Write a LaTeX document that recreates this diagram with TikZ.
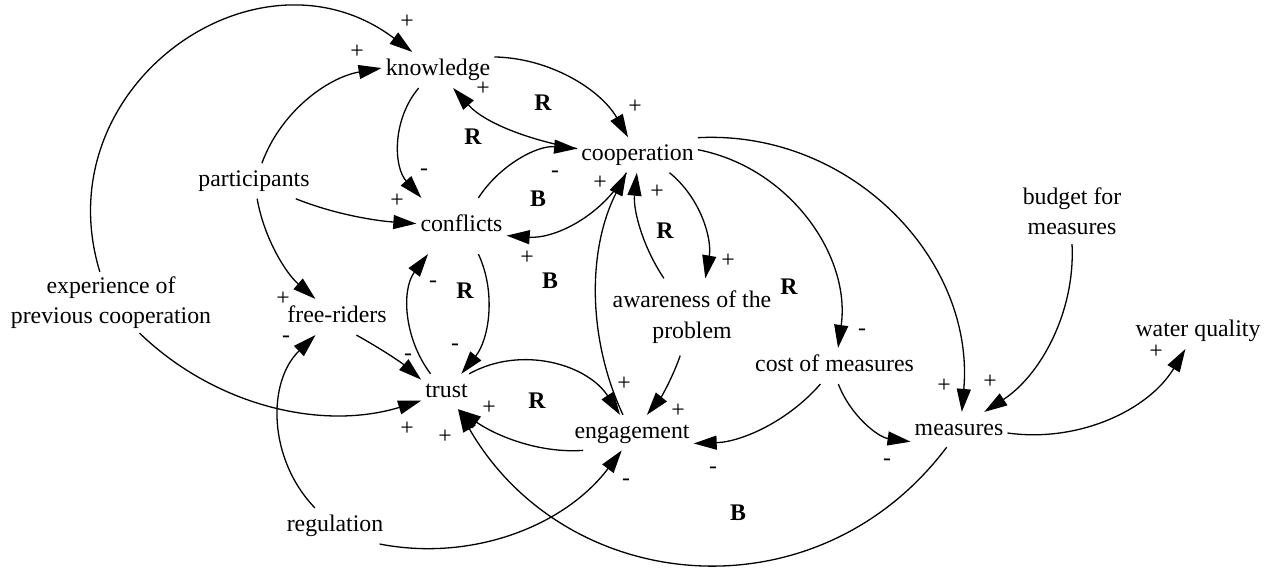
\documentclass[tikz,border=0pt]{standalone}
\usepackage{fontspec}
\setmainfont{Liberation Serif}
\usetikzlibrary{arrows.meta}
\newcommand\vstr{\rule[-5pt]{0pt}{21pt}}
\begin{document}
\begin{tikzpicture}[x=1pt,y=1pt,
  varbox/.style={rectangle, inner xsep=4pt, inner ysep=7pt,
    font=\fontsize{23.8}{30.5}\selectfont, align=center, execute at begin node=\vstr},
  varbox2/.style={varbox, inner ysep=4.25pt},
  sgn/.style={inner sep=0pt, font=\fontsize{23.8}{28}\selectfont, text height=11.4pt, text depth=0pt},
  looplbl/.style={inner sep=0pt, font=\fontsize{23.8}{28}\selectfont\bfseries},
  lnk/.style={line width=1.3pt, -{Triangle[length=23pt,width=14pt]}}
]
\useasboundingbox (0,0) rectangle (1271,-569);

% variables
\node[varbox] (know) at (438,-70) {knowledge};
\node[varbox] (coop) at (637.5,-155) {cooperation};
\node[varbox] (part) at (254,-181) {participants};
\node[varbox, inner ysep=17pt] (conf) at (461.5,-226) {conflicts};
\node[varbox2] (exp) at (111,-302.5) {experience of\\previous cooperation\vstr};
\node[varbox] (free) at (337,-317) {free-riders};
\node[varbox] (trust) at (446.5,-391.5) {trust};
\node[varbox] (eng) at (632,-432.6) {engagement};
\node[varbox2, inner ysep=12.25pt] (aware) at (692,-317) {awareness of the\\problem\vstr};
\node[varbox] (cost) at (834.5,-366) {cost of measures};
\node[varbox] (meas) at (959,-429.6) {measures};
\node[varbox2] (budget) at (1072,-213.5) {budget for\\measures\vstr};
\node[varbox] (water) at (1198,-331) {water quality};
\node[varbox] (reg) at (335,-526) {regulation};

% links
\draw[lnk] (exp.110) to[out=107,in=143,looseness=1.30] (know.145);
\draw[lnk] (part.66) to[out=70,in=190,looseness=0.92] (know.178);
\draw[lnk] (know.223) to[out=230,in=132,looseness=0.97] (conf.145);
\draw[lnk] (part.-23) to[out=-22,in=176,looseness=0.86] (conf.177);
\draw[lnk] (part.-80) to[out=-80,in=139,looseness=0.88] (free.140);
\draw[lnk] (exp.-47.5) to[out=-44,in=197,looseness=0.92] (trust.200);
\draw[lnk] (reg.138) to[out=134,in=224,looseness=1.0] (free.220);
\draw[lnk] (free.-43) to[out=-29,in=139,looseness=0.86] (trust.155);
\draw[lnk] (trust.132) to[out=127,in=233,looseness=0.95] (conf.220);
\draw[lnk] (conf.-59) to[out=-65,in=51,looseness=0.92] (trust.50);
\draw[lnk] (know.13) to[out=-1,in=120,looseness=0.91] (coop.118);
\draw[lnk] (coop.174) to[out=170,in=-48,looseness=0.88] (know.-50);
\draw[lnk] (conf.59) to[out=57,in=175,looseness=0.92] (coop.174);
\draw[lnk] (coop.238) to[out=241,in=-4,looseness=0.92] (conf.-12);
\draw[lnk] (eng.117) to[out=115,in=243,looseness=0.90] (coop.238);
\draw[lnk] (aware.126) to[out=124,in=264,looseness=0.88] (coop.268);
\draw[lnk] (coop.-29) to[out=-39,in=80,looseness=0.92] (aware.71);
\draw[lnk] (coop.5) to[out=-11,in=82,looseness=0.98] (cost.79);
\draw[lnk] (coop.16) to[out=3,in=85,looseness=1.03] (meas.81);
\draw[lnk] (budget.270) to[out=-87,in=33,looseness=0.91] (meas.35);
\draw[lnk] (meas.-4) to[out=-8,in=239,looseness=0.93] (water.235);
\draw[lnk] (cost.-78) to[out=-69,in=172,looseness=0.92] (meas.194);
\draw[lnk] (cost.232) to[out=229,in=2,looseness=0.89] (eng.-10);
\draw[lnk] (aware.253) to[out=251,in=51,looseness=0.86] (eng.50);
\draw[lnk] (trust.38) to[out=29,in=123,looseness=0.98] (eng.124);
\draw[lnk] (eng.200) to[out=184,in=325,looseness=0.88] (trust.-57);
\draw[lnk] (meas.235) to[out=233,in=300,looseness=1.13] (trust.-57);
\draw[lnk] (reg.-22) to[out=-11,in=233,looseness=0.93] (eng.240);

% polarities
\node[sgn] (s1) at (407,-23) {+};
\node[sgn] (s2) at (357,-53) {+};
\node[sgn] (s3) at (424,-170) {-};
\node[sgn] (s4) at (397,-202) {+};
\node[sgn] (s5) at (283,-300) {+};
\node[sgn] (s6) at (286,-337) {-};
\node[sgn] (s7) at (408,-355) {-};
\node[sgn] (s8) at (407,-430) {+};
\node[sgn] (s9) at (445,-438) {+};
\node[sgn] (s10) at (433,-282) {-};
\node[sgn] (s11) at (455,-345) {-};
\node[sgn] (s12) at (483,-90) {+};
\node[sgn] (s13) at (635,-108) {+};
\node[sgn] (s14) at (555,-172) {-};
\node[sgn] (s15) at (600,-184) {+};
\node[sgn] (s16) at (527,-259) {+};
\node[sgn] (s17) at (657,-193) {+};
\node[sgn] (s18) at (728,-262) {+};
\node[sgn] (s19) at (862,-330) {-};
\node[sgn] (s20) at (944,-387) {+};
\node[sgn] (s21) at (990,-383) {+};
\node[sgn] (s22) at (1156,-353) {+};
\node[sgn] (s23) at (887,-460) {-};
\node[sgn] (s24) at (713,-468) {-};
\node[sgn] (s25) at (678,-412) {+};
\node[sgn] (s26) at (624,-385) {+};
\node[sgn] (s27) at (489,-409) {+};
\node[sgn] (s28) at (626,-480) {-};

% loop identifiers
\node[looplbl] (l1) at (543,-103) {R};
\node[looplbl] (l2) at (473,-137) {R};
\node[looplbl] (l3) at (538,-199) {B};
\node[looplbl] (l4) at (550,-281) {B};
\node[looplbl] (l5) at (465,-291) {R};
\node[looplbl] (l6) at (665,-231) {R};
\node[looplbl] (l7) at (789,-287) {R};
\node[looplbl] (l8) at (537,-401) {R};
\node[looplbl] (l9) at (738,-513) {B};
\end{tikzpicture}
\end{document}
